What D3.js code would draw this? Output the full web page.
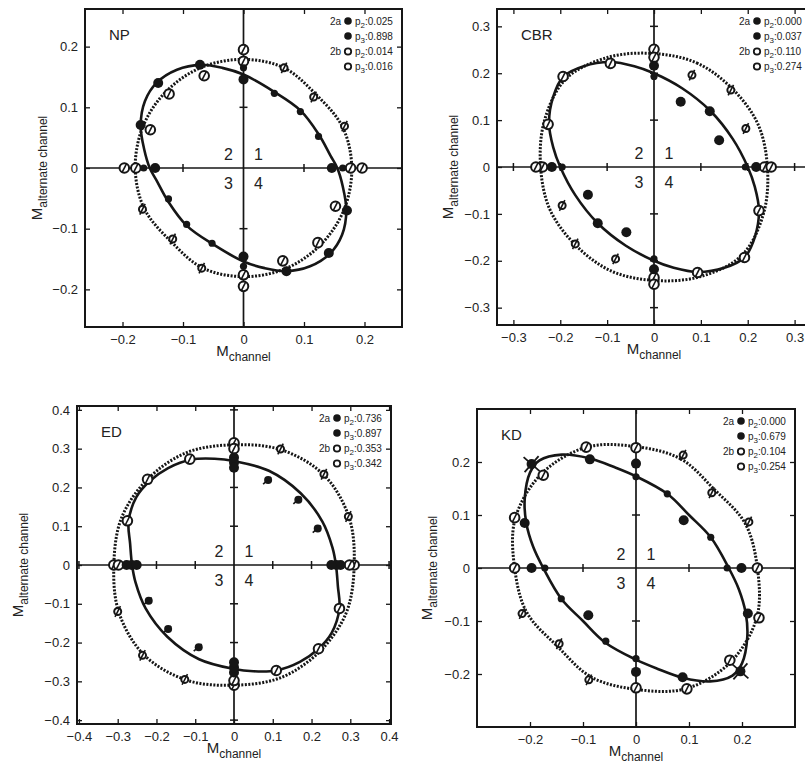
<!DOCTYPE html>
<html>
<head>
<meta charset="utf-8">
<script src="https://cdn.jsdelivr.net/npm/d3@7"></script>
<style>
body{margin:0;background:#fff}
svg{display:block;font-family:"Liberation Sans",Arial,sans-serif}
</style>
</head>
<body>
<div id="fig"></div>
<script>
// ---- NP ----
let npFilledBig = [[0,0.146],[-0.072,0.170],[-0.141,0.140],[-0.170,0.071],[-0.146,0],[0,-0.146],[0.071,-0.170],[0.141,-0.140],[0.171,-0.070],[0.146,0]];
let npFilledSmall = [[0,0.165],[-0.165,0],[-0.124,-0.051],[-0.094,-0.093],[-0.052,-0.124],[0,-0.162],[0.164,0],[0.124,0.052],[0.094,0.093],[0.051,0.123]];
let npOpenBig = [[0,0.195],[0,0.176],[0.177,0],[0.196,0],[0.152,-0.063],[0.123,-0.123],[0.065,-0.153],[0,-0.176],[0,-0.195],[-0.178,0],[-0.197,0],[-0.154,0.063],[-0.123,0.122],[-0.065,0.152]];
let npOpenSmall = [[0.067,0.165],[0.116,0.117],[0.167,0.069],[-0.069,-0.165],[-0.117,-0.117],[-0.167,-0.068]];
let npSolid = [[0,0.154],[0.05,0.126],[0.094,0.095],[0.124,0.056],[0.144,0.02],[0.155,0],[0.164,-0.03],[0.17,-0.07],[0.163,-0.11],[0.143,-0.141],[0.11,-0.162],[0.071,-0.17],[0.035,-0.165],
  [0,-0.154],[-0.05,-0.126],[-0.094,-0.095],[-0.124,-0.056],[-0.144,-0.02],[-0.155,0],[-0.164,0.03],[-0.17,0.07],[-0.163,0.11],[-0.143,0.141],[-0.11,0.162],[-0.071,0.17],[-0.035,0.165]];
let npDotted = [[0,0.179],[0.067,0.165],[0.12,0.121],[0.164,0.067],[0.179,0],[0.166,-0.069],[0.127,-0.127],[0.069,-0.166],[0,-0.179],[-0.067,-0.165],[-0.12,-0.121],[-0.164,-0.067],[-0.179,0],[-0.166,0.069],[-0.127,0.127],[-0.069,0.166]];
let npP = ["0.025","0.898","0.014","0.016"];

// ---- CBR ----
let cbrFilledBig = [[0,0.216],[0.057,0.139],[0.119,0.119],[0.139,0.057],[0.218,0],[0,-0.218],[-0.059,-0.139],[-0.12,-0.12],[-0.141,-0.059],[-0.218,0]];
let cbrFilledSmall = [[0,0.193],[0.195,0],[0,-0.196],[-0.196,0]];
let cbrOpenBig = [[0,0.251],[0,0.234],[0.236,0],[0.25,0],[0.224,-0.093],[0.193,-0.193],[0.093,-0.225],[0,-0.236],[0,-0.25],[-0.238,0],[-0.252,0],[-0.226,0.091],[-0.194,0.193],[-0.093,0.221]];
let cbrOpenSmall = [[0.081,0.196],[0.164,0.164],[0.196,0.082],[-0.082,-0.196],[-0.168,-0.164],[-0.196,-0.082]];
let cbrSolid = [[0,0.2],[0.06,0.168],[0.12,0.12],[0.168,0.06],[0.2,0],[0.215,-0.042],[0.224,-0.093],[0.215,-0.15],[0.193,-0.193],[0.15,-0.215],[0.093,-0.224],[0.042,-0.215],
  [0,-0.2],[-0.06,-0.168],[-0.12,-0.12],[-0.168,-0.06],[-0.2,0],[-0.215,0.042],[-0.224,0.093],[-0.215,0.15],[-0.193,0.193],[-0.15,0.215],[-0.093,0.224],[-0.042,0.215]];
let cbrDotted = [[0,0.242],[0.091,0.222],[0.167,0.167],[0.222,0.091],[0.242,0],[0.234,-0.098],[0.188,-0.188],[0.098,-0.234],[0,-0.242],[-0.091,-0.222],[-0.167,-0.167],[-0.222,-0.091],[-0.242,0],[-0.234,0.098],[-0.188,0.188],[-0.098,0.234]];
let cbrP = ["0.000","0.037","0.110","0.274"];

// ---- ED ----
let edFilledBig = [[0,0.277],[0,0.264],[0,0.251],[0.275,0],[0.264,0],[0.251,0],[0,-0.277],[0,-0.264],[0,-0.251],[-0.277,0],[-0.264,0],[-0.251,0]];
let edFilledSmall = [[0.088,0.219],[0.166,0.168],[0.216,0.094],[-0.22,-0.092],[-0.17,-0.165],[-0.091,-0.212]];
let edOpenBig = [[0,0.315],[0,0.3],[0.31,0],[0.298,0],[0.272,-0.112],[0.218,-0.216],[0.109,-0.272],[0,-0.31],[0,-0.298],[-0.31,0],[-0.298,0],[-0.275,0.114],[-0.223,0.221],[-0.114,0.273]];
let edOpenSmall = [[0.12,0.299],[0.232,0.234],[0.295,0.125],[-0.127,-0.295],[-0.236,-0.233],[-0.3,-0.12]];
let edSolid = [[0,0.268],[0.09,0.243],[0.172,0.185],[0.228,0.112],[0.254,0.045],[0.263,0],[0.268,-0.055],[0.272,-0.112],[0.252,-0.175],[0.218,-0.216],[0.17,-0.25],[0.109,-0.272],[0.05,-0.274],
  [0,-0.268],[-0.09,-0.243],[-0.172,-0.185],[-0.228,-0.112],[-0.254,-0.045],[-0.263,0],[-0.268,0.055],[-0.272,0.112],[-0.252,0.175],[-0.218,0.216],[-0.17,0.25],[-0.109,0.272],[-0.05,0.274]];
let edDotted = [[0,0.31],[0.122,0.297],[0.232,0.232],[0.297,0.122],[0.31,0],[0.29,-0.122],[0.222,-0.222],[0.122,-0.29],[0,-0.31],[-0.122,-0.297],[-0.232,-0.232],[-0.297,-0.122],[-0.31,0],[-0.29,0.122],[-0.222,0.222],[-0.122,0.29]];
let edP = ["0.736","0.897","0.353","0.342"];

// ---- KD ----
let kdFilledBig = [[0,0.197],[-0.087,0.205],[-0.197,0.196],[-0.21,0.085],[-0.197,0],[-0.09,-0.089],[0,-0.196],[0.088,-0.206],[0.197,-0.195],[0.211,-0.086],[0.199,0],[0.09,0.09]];
let kdFilledSmall = [[0,0.172],[-0.172,0],[-0.141,-0.058],[-0.057,-0.138],[0,-0.171],[0.172,0],[0.141,0.058],[0.059,0.14]];
let kdOpenBig = [[0,0.227],[-0.094,0.228],[-0.175,0.175],[-0.229,0.095],[-0.229,0],[0,-0.226],[0.096,-0.228],[0.177,-0.174],[0.232,-0.094],[0.229,0]];
let kdOpenSmall = [[-0.215,-0.086],[-0.145,-0.143],[-0.089,-0.211],[0.213,0.087],[0.143,0.142],[0.089,0.213]];
let kdCross = [[-0.197,0.196],[0.197,-0.195]];
let kdSolid = [[0,0.173],[0.059,0.14],[0.1,0.1],[0.141,0.058],[0.175,0],[0.194,-0.04],[0.207,-0.085],[0.21,-0.13],[0.2,-0.18],[0.182,-0.203],[0.14,-0.214],[0.088,-0.207],[0.04,-0.19],
  [0,-0.173],[-0.059,-0.14],[-0.1,-0.1],[-0.141,-0.058],[-0.175,0],[-0.194,0.04],[-0.207,0.085],[-0.21,0.13],[-0.2,0.18],[-0.182,0.203],[-0.14,0.214],[-0.088,0.207],[-0.04,0.19]];
let kdDotted = [[0,0.229],[0.084,0.206],[0.148,0.148],[0.206,0.084],[0.229,0],[0.228,-0.093],[0.178,-0.178],[0.093,-0.228],[0,-0.229],[-0.084,-0.206],[-0.148,-0.148],[-0.206,-0.084],[-0.229,0],[-0.228,0.093],[-0.178,0.178],[-0.093,0.228]];
let kdP = ["0.000","0.679","0.104","0.254"];

let panels = [
  {name:"NP", left:85, right:402, top:9, bottom:327, xDom:[-0.262,0.262], yDom:[-0.262,0.262], ticks:[-0.2,-0.1,0,0.1,0.2], ylabOff:43, tails:false, cross:[],
   filledBig:npFilledBig, filledSmall:npFilledSmall, openBig:npOpenBig, openSmall:npOpenSmall, solid:npSolid, dotted:npDotted, p:npP},
  {name:"CBR", left:497, right:811, top:9, bottom:325, xDom:[-0.335,0.335], yDom:[-0.337,0.337], ticks:[-0.3,-0.2,-0.1,0,0.1,0.2,0.3], ylabOff:44, tails:false, cross:[],
   filledBig:cbrFilledBig, filledSmall:cbrFilledSmall, openBig:cbrOpenBig, openSmall:cbrOpenSmall, solid:cbrSolid, dotted:cbrDotted, p:cbrP},
  {name:"ED", left:77, right:391, top:406, bottom:724, xDom:[-0.405,0.405], yDom:[-0.41,0.41], ticks:[-0.4,-0.3,-0.2,-0.1,0,0.1,0.2,0.3,0.4], ylabOff:54, tails:true, cross:[],
   filledBig:edFilledBig, filledSmall:edFilledSmall, openBig:edOpenBig, openSmall:edOpenSmall, solid:edSolid, dotted:edDotted, p:edP},
  {name:"KD", left:477, right:795, top:409, bottom:727, xDom:[-0.3,0.3], yDom:[-0.3,0.3], ticks:[-0.2,-0.1,0,0.1,0.2], ylabOff:45, tails:false, cross:kdCross,
   filledBig:kdFilledBig, filledSmall:kdFilledSmall, openBig:kdOpenBig, openSmall:kdOpenSmall, solid:kdSolid, dotted:kdDotted, p:kdP}
];

let svg = d3.select("#fig").append("svg")
    .attr("width", 805)
    .attr("height", 767)
    .style("background-color", "white");

let fmt = d => d === 0 ? "0" : d3.format(".1f")(d);
let ink = "#161616";

panels.forEach(drawPanel);

function drawPanel(p){
    let g = svg.append("g");
    let x = d3.scaleLinear().domain(p.xDom).range([p.left, p.right]);
    let y = d3.scaleLinear().domain(p.yDom).range([p.bottom, p.top]);
    let x0 = x(0), y0 = y(0);

    // center cross axes
    g.append("line").attr("x1", p.left).attr("x2", p.right).attr("y1", y0).attr("y2", y0)
        .attr("stroke", ink).attr("stroke-width", 1.7);
    g.append("line").attr("x1", x0).attr("x2", x0).attr("y1", p.top).attr("y2", p.bottom)
        .attr("stroke", ink).attr("stroke-width", 1.7);
    let inner = p.ticks.filter(d => d !== 0);
    g.selectAll(".cx").data(inner).join("line")
        .attr("x1", d => x(d)).attr("x2", d => x(d)).attr("y1", y0 - 4).attr("y2", y0 + 4)
        .attr("stroke", ink).attr("stroke-width", 1.5);
    g.selectAll(".cy").data(inner).join("line")
        .attr("y1", d => y(d)).attr("y2", d => y(d)).attr("x1", x0 - 4).attr("x2", x0 + 4)
        .attr("stroke", ink).attr("stroke-width", 1.5);

    // fitted curves
    let line = d3.line()
        .x(d => x(d[0]))
        .y(d => y(d[1]))
        .curve(d3.curveCatmullRomClosed.alpha(0.5));
    g.append("path").attr("d", line(p.dotted))
        .attr("fill", "none").attr("stroke", ink).attr("stroke-width", 3)
        .attr("stroke-dasharray", "2,1.5");
    g.append("path").attr("d", line(p.solid))
        .attr("fill", "none").attr("stroke", ink).attr("stroke-width", 2.6);

    // open circles (2b) with error slash
    function openPts(data, r, ext){
        let s = g.append("g").selectAll("g").data(data).join("g")
            .attr("transform", d => "translate(" + x(d[0]) + "," + y(d[1]) + ")");
        s.append("circle").attr("r", r).attr("fill", "white")
            .attr("stroke", ink).attr("stroke-width", 2);
        let L = r + ext;
        s.append("line")
            .attr("x1", -L * 0.45).attr("y1", L * 0.89)
            .attr("x2", L * 0.45).attr("y2", -L * 0.89)
            .attr("stroke", ink).attr("stroke-width", 1.6);
    }
    openPts(p.openBig, 4.8, 0.5);
    openPts(p.openSmall, 3.5, 2.5);

    // error bars of filled points
    if (p.tails) {
        g.append("g").selectAll("line").data(p.filledSmall).join("line")
            .attr("x1", d => x(d[0]) - 5).attr("y1", d => y(d[1]) + 4)
            .attr("x2", d => x(d[0]) + 3).attr("y2", d => y(d[1]) - 3)
            .attr("stroke", ink).attr("stroke-width", 1.6);
    }
    let cr = g.append("g").selectAll("g").data(p.cross).join("g")
        .attr("transform", d => "translate(" + x(d[0]) + "," + y(d[1]) + ")");
    cr.append("line").attr("x1", -8).attr("y1", -7).attr("x2", 8).attr("y2", 7)
        .attr("stroke", ink).attr("stroke-width", 1.8);
    cr.append("line").attr("x1", -7).attr("y1", 8).attr("x2", 7).attr("y2", -8)
        .attr("stroke", ink).attr("stroke-width", 1.8);

    // filled points (2a)
    g.append("g").selectAll("circle").data(p.filledBig).join("circle")
        .attr("cx", d => x(d[0])).attr("cy", d => y(d[1])).attr("r", 5).attr("fill", ink);
    g.append("g").selectAll("circle").data(p.filledSmall).join("circle")
        .attr("cx", d => x(d[0])).attr("cy", d => y(d[1])).attr("r", p.tails ? 4 : 3.6).attr("fill", ink);

    // axes on box, inward ticks
    let font = "'Liberation Sans', Arial, sans-serif";
    let axB = g.append("g").attr("transform", "translate(0," + p.bottom + ")")
        .call(d3.axisBottom(x).tickValues(p.ticks).tickFormat(fmt).tickSize(-5).tickSizeOuter(0).tickPadding(8));
    let axL = g.append("g").attr("transform", "translate(" + p.left + ",0)")
        .call(d3.axisLeft(y).tickValues(p.ticks).tickFormat(fmt).tickSize(-5).tickSizeOuter(0).tickPadding(7));
    let axT = g.append("g").attr("transform", "translate(0," + p.top + ")")
        .call(d3.axisTop(x).tickValues(p.ticks).tickFormat("").tickSize(-5).tickSizeOuter(0));
    let axR = g.append("g").attr("transform", "translate(" + p.right + ",0)")
        .call(d3.axisRight(y).tickValues(p.ticks).tickFormat("").tickSize(-5).tickSizeOuter(0));
    [axB, axL, axT, axR].forEach(a => {
        a.attr("font-family", font).attr("font-size", 13);
        a.selectAll("line").attr("stroke", ink).attr("stroke-width", 1.3);
        a.select(".domain").remove();
        a.selectAll("text").attr("fill", "#222");
    });
    g.append("rect").attr("x", p.left).attr("y", p.top)
        .attr("width", p.right - p.left).attr("height", p.bottom - p.top)
        .attr("fill", "none").attr("stroke", ink).attr("stroke-width", 2);

    // axis titles
    let xt = g.append("text").attr("x", (p.left + p.right) / 2).attr("y", p.bottom + 29)
        .attr("text-anchor", "middle").attr("font-size", 15).attr("fill", "#222");
    xt.append("tspan").text("M");
    xt.append("tspan").attr("font-size", 12).attr("dy", 5).text("channel");
    let yt = g.append("text")
        .attr("transform", "translate(" + (p.left - p.ylabOff) + "," + (p.top + p.bottom) / 2 + ") rotate(-90)")
        .attr("text-anchor", "middle").attr("font-size", 15).attr("fill", "#222");
    yt.append("tspan").text("M");
    yt.append("tspan").attr("font-size", 12).attr("dy", 5).text("alternate channel");

    // panel name and quadrant numbers
    g.append("text").attr("x", p.left + 24).attr("y", p.top + 31)
        .attr("font-size", 15).attr("fill", "#222").text(p.name);
    let quads = [["2", -15, -14], ["1", 15, -14], ["3", -15, 15], ["4", 15, 15]];
    g.selectAll(".q").data(quads).join("text")
        .attr("x", d => x0 + d[1]).attr("y", d => y0 + d[2])
        .attr("text-anchor", "middle").attr("dominant-baseline", "central")
        .attr("font-size", 16).attr("fill", "#222").text(d => d[0]);

    // legend
    let rows = [["2a", true, "2", p.p[0]], ["", true, "3", p.p[1]], ["2b", false, "2", p.p[2]], ["", false, "3", p.p[3]]];
    let rowY = [12, 27, 42.5, 57.5];
    let mx = p.right - 54;
    rows.forEach((r, i) => {
        let yy = p.top + rowY[i];
        if (r[0]) g.append("text").attr("x", mx - 7).attr("y", yy + 3.5).attr("text-anchor", "end")
            .attr("font-size", 10).attr("fill", "#222").text(r[0]);
        g.append("circle").attr("cx", mx).attr("cy", yy).attr("r", r[1] ? 3.8 : 3.2)
            .attr("fill", r[1] ? ink : "white").attr("stroke", ink).attr("stroke-width", r[1] ? 0 : 1.8);
        let t = g.append("text").attr("x", mx + 7).attr("y", yy + 3.5).attr("font-size", 10).attr("fill", "#222");
        t.append("tspan").text("p");
        t.append("tspan").attr("font-size", 8).attr("dy", 3).text(r[2]);
        t.append("tspan").attr("dy", -3).text(":" + r[3]);
    });
}
</script>
</body>
</html>
